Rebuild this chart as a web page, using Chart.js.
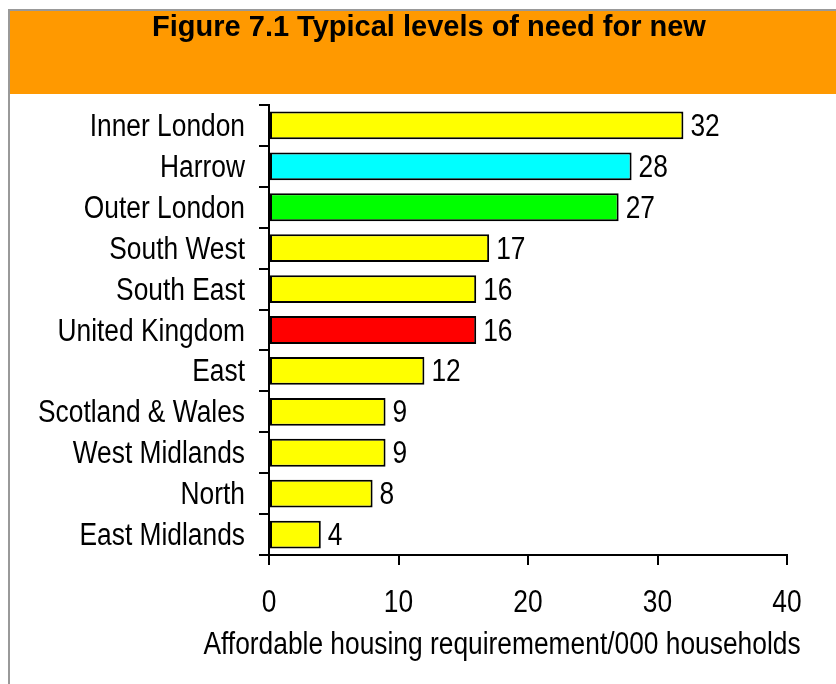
<!DOCTYPE html>
<html>
<head>
<meta charset="utf-8">
<script src="https://cdn.jsdelivr.net/npm/chart.js@4"></script>
<style>
  html, body { margin: 0; padding: 0; background: #fff; }
  canvas { display: block; }
</style>
</head>
<body>
<canvas id="chart" width="836" height="684"></canvas>
<script>
const regions = [
    "Inner London", "Harrow", "Outer London", "South West", "South East",
    "United Kingdom", "East", "Scotland & Wales", "West Midlands", "North", "East Midlands"
];
const need = [32, 28, 27, 17, 16, 16, 12, 9, 9, 8, 4];
const barColours = [
    "#ffff00", "#00ffff", "#00ff00", "#ffff00", "#ffff00",
    "#ff0000", "#ffff00", "#ffff00", "#ffff00", "#ffff00", "#ffff00"
];
const xTicks = [0, 10, 20, 30, 40];
const titleText = "Figure 7.1 Typical levels of need for new";
const xTitle = "Affordable housing requiremement/000 households";

const sans = "'Liberation Sans', Arial, sans-serif";
const squeeze = 0.85; // no narrow face installed, so condense the regular one

// orange header band and grey frame behind the chart
const backdrop = {
    id: 'backdrop',
    beforeDraw(chart) {
        const ctx = chart.ctx;
        ctx.save();
        ctx.fillStyle = '#ffffff';
        ctx.fillRect(0, 0, chart.width, chart.height);
        ctx.fillStyle = '#999999';
        ctx.fillRect(8, 9, chart.width - 8, 2);
        ctx.fillRect(8, 9, 2, chart.height - 9);
        ctx.fillStyle = '#ff9900';
        ctx.fillRect(10, 11, chart.width - 10, 83);
        ctx.restore();
    }
};

function narrowText(ctx, text, x, y, align) {
    ctx.save();
    ctx.translate(x, y);
    ctx.scale(squeeze, 1);
    ctx.textAlign = align;
    ctx.fillText(text, 0, 0);
    ctx.restore();
}

// tick labels, value labels and x axis title in a condensed face
const labels = {
    id: 'labels',
    afterDraw(chart) {
        const ctx = chart.ctx;
        const xs = chart.scales.x, ys = chart.scales.y;
        ctx.save();
        ctx.fillStyle = '#000';
        ctx.font = "31px " + sans;
        ctx.textBaseline = 'middle';
        regions.forEach((r, i) => {
            narrowText(ctx, r, ys.right - 24, ys.getPixelForTick(i) + 2, 'right');
        });
        xTicks.forEach(v => {
            narrowText(ctx, String(v), xs.getPixelForValue(v), 603, 'center');
        });
        chart.getDatasetMeta(0).data.forEach((bar, i) => {
            narrowText(ctx, String(need[i]), bar.x + 7, bar.y + 2, 'left');
        });
        narrowText(ctx, xTitle, 502, 645, 'center');
        ctx.restore();
    }
};

new Chart(document.getElementById('chart'), {
    type: 'bar',
    data: {
        labels: regions,
        datasets: [{
            data: need,
            backgroundColor: barColours,
            borderColor: '#000',
            borderWidth: 2,
            borderSkipped: false,
            barPercentage: 0.68,
            categoryPercentage: 1
        }]
    },
    options: {
        indexAxis: 'y',
        responsive: false,
        animation: false,
        layout: { padding: { left: 71, right: 49, top: 0, bottom: 0 } },
        plugins: {
            legend: { display: false },
            tooltip: { enabled: false },
            title: {
                display: true,
                text: titleText,
                color: '#000',
                font: { family: sans, size: 29, weight: 'bold' },
                padding: { top: 11, bottom: 59.2 }
            }
        },
        scales: {
            x: {
                min: 0,
                max: 40,
                afterBuildTicks: s => { s.ticks = xTicks.map(v => ({ value: v })); },
                afterFit: s => { s.height = 129; },
                border: { display: true, color: '#000', width: 2 },
                grid: { drawOnChartArea: false, drawTicks: true, tickLength: 10, color: '#000', lineWidth: 2 },
                ticks: { color: 'rgba(0,0,0,0)', font: { family: sans, size: 31 }, padding: 18, maxRotation: 0 }
            },
            y: {
                afterFit: s => { s.width = 198; },
                border: { display: true, color: '#000', width: 2 },
                grid: { drawOnChartArea: false, drawTicks: true, tickLength: 10, color: '#000', lineWidth: 2 },
                ticks: { color: 'rgba(0,0,0,0)', font: { family: sans, size: 31 }, padding: 14, autoSkip: false }
            }
        }
    },
    plugins: [backdrop, labels]
});
</script>
</body>
</html>
